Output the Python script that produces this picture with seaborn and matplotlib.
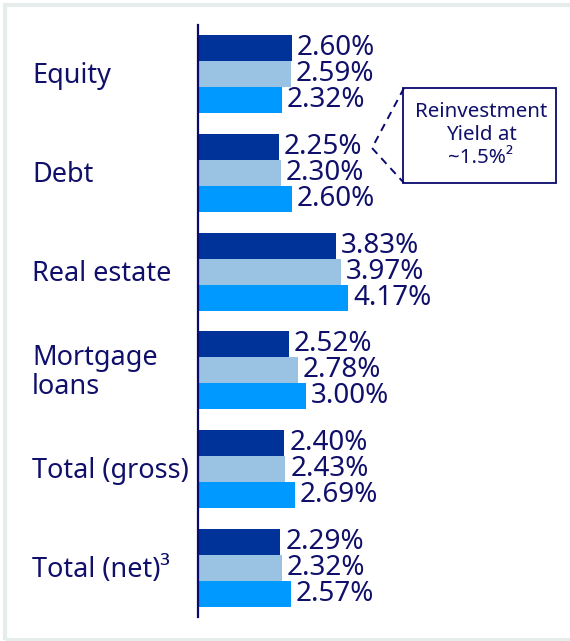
import matplotlib
matplotlib.use("Agg")
import matplotlib.pyplot as plt
from matplotlib.patches import Rectangle
from matplotlib.lines import Line2D
import seaborn as sns
import pandas as pd

# Categories and yields (%) for three series
categories = ["Equity", "Debt", "Real estate", "Mortgage\nloans", "Total (gross)", "Total (net)\u00b3"]
series_names = ["series_1", "series_2", "series_3"]
series_1 = [2.60, 2.25, 3.83, 2.52, 2.40, 2.29]
series_2 = [2.59, 2.30, 3.97, 2.78, 2.43, 2.32]
series_3 = [2.32, 2.60, 4.17, 3.00, 2.69, 2.57]

NAVY_TEXT = "#10106B"
palette = ["#003399", "#99C2E3", "#0099FF"]

rows = []
for name, vals in zip(series_names, [series_1, series_2, series_3]):
    for cat, v in zip(categories, vals):
        rows.append({"category": cat, "series": name, "value": v})
df = pd.DataFrame(rows)

sns.set_theme(style="white")
plt.rcParams["font.family"] = ["Noto Sans", "DejaVu Sans"]

W, H = 570, 641
fig = plt.figure(figsize=(W / 100, H / 100), dpi=100)
ax = fig.add_axes([198 / W, 1 - 617 / H, (560 - 198) / W, (617 - 25) / H])

sns.barplot(data=df, y="category", x="value", hue="series", order=categories,
            hue_order=series_names, palette=palette, orient="h", width=0.79,
            gap=0, linewidth=0, saturation=1, legend=False, ax=ax)

ax.set_xlim(0, (560 - 198) / 36.0)
ax.set_ylim(5.5, -0.5)
ax.set_xlabel("")
ax.set_ylabel("")
ax.set_xticks([])
ax.set_yticks([])
for side in ["top", "right", "bottom"]:
    ax.spines[side].set_visible(False)
ax.spines["left"].set_color("#0A0A6E")
ax.spines["left"].set_linewidth(1.6)

for cont in ax.containers:
    ax.bar_label(cont, labels=[f"{v:.2f}%" for v in cont.datavalues],
                 padding=3.5, fontsize=20, color=NAVY_TEXT)

# Category labels, left aligned
trans = matplotlib.transforms.blended_transform_factory(fig.transFigure, ax.transData)
for i, cat in enumerate(categories):
    ax.text(32 / W, i + 0.02, cat, transform=trans, ha="left", va="center",
            fontsize=19.5, color=NAVY_TEXT, linespacing=1.05)

# Callout box with dashed bracket
def fx(px):
    return px / W

def fy(py):
    return 1 - py / H

fig.patches.append(Rectangle((fx(403), fy(183)), fx(556) - fx(403), fy(88) - fy(183),
                             transform=fig.transFigure, fill=False,
                             edgecolor="#0A0A6E", linewidth=1.3))
fig.lines.append(Line2D([fx(404), fx(372), fx(404)], [fy(88), fy(148), fy(183)],
                        transform=fig.transFigure, color="#0A0A6E",
                        linewidth=1.4, linestyle=(0, (4, 3))))
fig.text(fx(481), fy(135), "Reinvestment\nYield at\n~1.5%\u00b2", ha="center", va="center",
         fontsize=14.8, color=NAVY_TEXT, linespacing=1.2)

# Light frame around the figure
fig.patches.append(Rectangle((fx(5), fy(639.5)), fx(580) - fx(5), fy(5) - fy(639.5),
                             transform=fig.transFigure, fill=False,
                             edgecolor="#E6EBEB", linewidth=3))

fig.savefig("out.png", dpi=100)
